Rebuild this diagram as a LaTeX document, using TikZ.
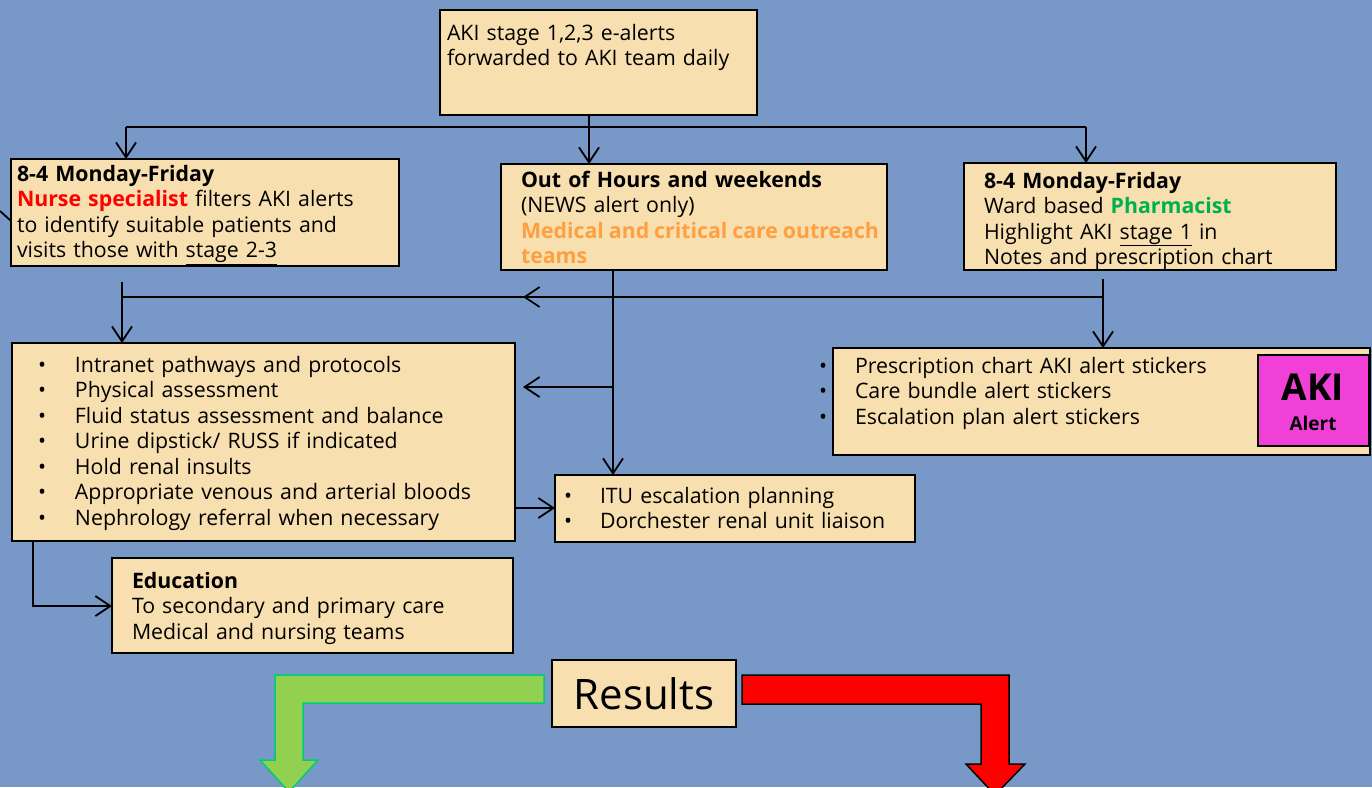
\documentclass[tikz,border=0pt]{standalone}
\usepackage{fontspec}
\setmainfont{Open Sans}
\usetikzlibrary{arrows.meta}
\definecolor{bg}{RGB}{120,152,200}
\definecolor{boxfill}{RGB}{248,223,176}
\definecolor{akimag}{RGB}{240,64,216}
\definecolor{ooh}{RGB}{255,160,64}
\definecolor{pgreen}{RGB}{0,176,80}
\definecolor{garrow}{RGB}{146,208,80}
\definecolor{garrowline}{RGB}{0,204,120}
\newcommand\akibox[6][boxfill]{\node[box, fill=#1, minimum width=#5pt, minimum height=#6pt] (#2) at (#3,#4) {};}
\newcommand\bul[1]{\makebox[#1][l]{•}}
\begin{document}
\begin{tikzpicture}[x=1pt,y=-1pt,
  box/.style={draw=black, line width=1.6pt, inner sep=0pt, outer sep=0pt, anchor=north west},
  txt/.style={anchor=base west, inner sep=0pt, outer sep=0pt, align=left, text width=700pt, font=\fontsize{21.3}{25.5}\selectfont},
  conn/.style={line width=1.8pt, -{Straight Barb[length=15pt,width=20pt]}},
  plainline/.style={line width=1.8pt}]
\useasboundingbox (0,0) rectangle (1372,787);
\fill[bg] (0,0) rectangle (1372,787);

% boxes
\akibox{top}{440}{10}{317}{105}
\akibox{nurse}{11}{159}{388}{107}
\akibox{ooh}{501}{164}{386}{106}
\akibox{pharm}{964}{163}{372}{107}
\akibox{bul}{12}{343}{503}{198}
\akibox{itu}{555}{475}{360}{67}
\akibox{stick}{833}{348}{537}{107}
\akibox[akimag]{aki}{1258}{355}{111}{91}
\akibox{edu}{112}{558}{401}{95}

% texts
\node[txt] (ttop) at (447,40) {AKI stage 1,2,3 e-alerts\\forwarded to AKI team daily};
\node[txt] (tnurse) at (17,181) {\textbf{8-4 Monday-Friday}\\\textcolor{red}{\textbf{Nurse specialist}} filters AKI alerts\\to identify suitable patients and\\visits those with \underline{stage 2-3}};
\node[txt] (tooh) at (521,187) {\textbf{Out of Hours and weekends}\\(NEWS alert only)\\\leavevmode\hbox to 358pt{\color{ooh}\bfseries Medical\hfill and\hfill critical\hfill care\hfill outreach}\\\textcolor{ooh}{\textbf{teams}}};
\node[txt] (tpharm) at (984,188) {\textbf{8-4 Monday-Friday}\\Ward based \textcolor{pgreen}{\textbf{Pharmacist}}\\Highlight AKI \underline{stage 1} in\\Notes and prescription chart};
\node[txt] (tbul) at (38,372) {\bul{37pt}Intranet pathways and protocols\\\bul{37pt}Physical assessment\\\bul{37pt}Fluid status assessment and balance\\\bul{37pt}Urine dipstick/ RUSS if indicated\\\bul{37pt}Hold renal insults\\\bul{37pt}Appropriate venous and arterial bloods\\\bul{37pt}Nephrology referral when necessary};
\node[txt] (titu) at (564,503) {\bul{36pt}ITU escalation planning\\\bul{36pt}Dorchester renal unit liaison};
\node[txt] (tstick) at (819,373) {\bul{36pt}Prescription chart AKI alert stickers\\\bul{36pt}Care bundle alert stickers\\\bul{36pt}Escalation plan alert stickers};
\node[txt] (tedu) at (132,588) {\textbf{Education}\\To secondary and primary care\\Medical and nursing teams};
\node[anchor=base, inner sep=0pt, font=\fontsize{37}{40}\selectfont\bfseries] (takia) at (1313,400) {AKI};
\node[anchor=base, inner sep=0pt, font=\fontsize{19}{22}\selectfont\bfseries] (takib) at (1313,430) {Alert};
\node[box, fill=boxfill, minimum width=184pt, minimum height=67pt, font=\fontsize{42}{48}\selectfont] (res) at (552,660) {Results};

% connector junctions
\coordinate (jL) at (126,127);
\coordinate (jM) at (589,127);
\coordinate (jR) at (1086,127);
\coordinate (kL) at (122,282);
\coordinate (kLm) at (122,297);
\coordinate (kR) at (1103,297);
\coordinate (kRt) at (1103,279);
\coordinate (aL) at (523,297);
\coordinate (mx) at (613,387);
\coordinate (aM) at (523,387);
\coordinate (r) at (0,508);
\coordinate (e) at (33,606);
\coordinate (s) at (0,211);
\coordinate (s2) at (0,221);

% connectors
\draw[conn] (jM |- top.south) -- (jM |- ooh.north);
\draw[plainline] (jL) -- (jR);
\draw[conn] (jL) -- (jL |- nurse.north);
\draw[conn] (jR) -- (jR |- pharm.north);
\draw[plainline] (s) -- (nurse.west |- s2);
\draw[plainline] (kLm) -- (kR);
\draw[conn] (kL) -- (kL |- bul.north);
\draw[conn] (kR) -- (aL);
\draw[conn] (kRt) -- (kRt |- stick.north);
\draw[conn] (mx |- ooh.south) -- (mx |- itu.north);
\draw[conn] (mx) -- (aM);
\draw[conn] (bul.east |- r) -- (itu.west |- r);
\draw[conn] (e |- bul.south) -- (e) -- (edu.west |- e);

% result arrows
\draw[fill=garrow, draw=garrowline, line width=1.5pt, line join=miter]
  (544,675) -- (275,675) -- (275,760) -- (260,760) -- (289,792) -- (318,760) -- (303,760) -- (303,703) -- (544,703) -- cycle;
\draw[fill=red, draw=black, line width=1.5pt, line join=miter]
  (742,675) -- (1009,675) -- (1009,764) -- (1025,764) -- (995,795) -- (966,764) -- (981,764) -- (981,704) -- (742,704) -- cycle;
\end{tikzpicture}
\end{document}
